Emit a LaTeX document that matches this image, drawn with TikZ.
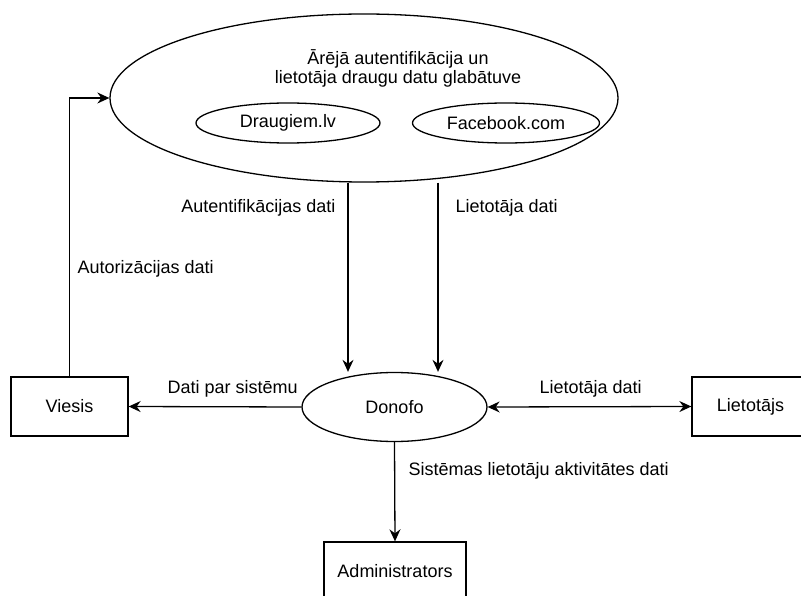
\documentclass[tikz,border=0pt]{standalone}
\usepackage{fontspec}
\setmainfont{Liberation Sans}
\usetikzlibrary{shapes.geometric,arrows.meta}

\begin{document}
\begin{tikzpicture}[x=1pt,y=-1pt,line width=1.3pt,
    font=\fontsize{18}{21}\selectfont,
    proc/.style={draw,ellipse,inner sep=0pt},
    ent/.style={draw,rectangle,inner sep=0pt,minimum width=117pt,minimum height=59pt},
    lbl/.style={inner sep=0pt},
    tip/.style={Stealth[length=12pt,width=11pt,inset=4pt]},
    flow/.style={-{Stealth[length=12pt,width=11pt,inset=4pt]}},
    flowboth/.style={{Stealth[length=12pt,width=11pt,inset=4pt]}-{Stealth[length=12pt,width=11pt,inset=4pt]}}]
  \useasboundingbox (0,0) rectangle (801,596);

  % data store with the two providers
  \node[proc, minimum width=508pt, minimum height=168pt] (store) at (364,98) {};
  \node[lbl, align=center, font=\fontsize{18}{19}\selectfont] (title) at (398,68)
    {Ārējā autentifikācija un\\lietotāja draugu datu glabātuve};
  \node[proc, minimum width=184pt, minimum height=40pt] (draugiem) at (288,123) {Draugiem.lv};
  \node[proc, minimum width=187pt, minimum height=40pt] (facebook) at (506,123) {Facebook.com};

  \node[proc, minimum width=185pt, minimum height=69pt] (donofo) at (394.5,407) {Donofo};

  \node[ent] (viesis) at (69.5,406.5) {Viesis};
  \node[ent] (lietotajs) at (750.5,406.5) {Lietotājs};
  \node[ent, minimum width=142pt] (admin) at (395,571.5) {Administrators};

  \coordinate (auth) at (348,0);
  \coordinate (udat) at (438,0);

  \draw[flow] (auth |- store.south) -- (auth |- donofo.north);
  \draw[flow] (udat |- store.south) -- (udat |- donofo.north);
  \draw[flow] (viesis.north) |- (store.west);
  \draw[flow] (donofo.west) -- (viesis.east);
  \draw[flowboth] (donofo.east) -- (lietotajs.west);
  \draw[flow] (donofo.south) -- (admin.north);

  \node[lbl, anchor=base east] (lauth) at (336,213) {Autentifikācijas dati};
  \node[lbl, anchor=base west] (ludat) at (455,213) {Lietotāja dati};
  \node[lbl, anchor=base west] (lautz) at (77,273) {Autorizācijas dati};
  \node[lbl, anchor=base west] (lsys) at (167,393) {Dati par sistēmu};
  \node[lbl, anchor=base west] (lusr) at (539,393) {Lietotāja dati};
  \node[lbl, anchor=base west] (lact) at (408,475) {Sistēmas lietotāju aktivitātes dati};
\end{tikzpicture}
\end{document}
